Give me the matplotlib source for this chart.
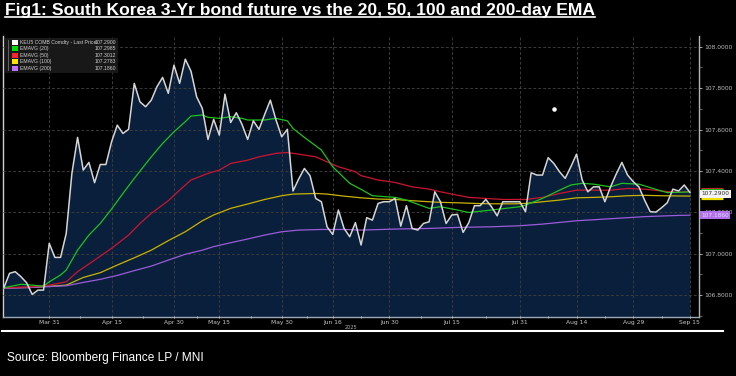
import matplotlib
matplotlib.use("Agg")
import matplotlib.pyplot as plt
from matplotlib.lines import Line2D
from matplotlib.patches import Rectangle
import matplotlib.transforms as mtrans
import numpy as np

# last price, one value per trading day (index 0 = start of window)
price = [106.835, 106.905, 106.913, 106.889, 106.860, 106.803, 106.824, 106.824, 107.050, 106.982,
         106.982, 107.098, 107.388, 107.562, 107.404, 107.441, 107.343, 107.431, 107.431, 107.541,
         107.621, 107.581, 107.601, 107.823, 107.734, 107.710, 107.742, 107.807, 107.852, 107.775,
         107.911, 107.823, 107.940, 107.882, 107.758, 107.702, 107.552, 107.649, 107.573, 107.771,
         107.634, 107.681, 107.625, 107.552, 107.642, 107.601, 107.673, 107.742, 107.646, 107.565,
         107.601, 107.303, 107.361, 107.412, 107.377, 107.267, 107.251, 107.130, 107.093, 107.211,
         107.122, 107.082, 107.150, 107.042, 107.174,
         107.162, 107.243, 107.251, 107.251, 107.267, 107.133, 107.232, 107.122, 107.114, 107.146,
         107.154, 107.299, 107.251, 107.146, 107.187, 107.190, 107.103, 107.150, 107.232, 107.232,
         107.262, 107.227, 107.183, 107.251, 107.251, 107.251, 107.251, 107.203, 107.391, 107.380,
         107.380, 107.464, 107.436, 107.396, 107.364, 107.420, 107.481, 107.356, 107.299, 107.323,
         107.323, 107.251, 107.323, 107.385, 107.441, 107.380, 107.348, 107.323, 107.259, 107.203,
         107.201, 107.222, 107.246, 107.312, 107.303, 107.332, 107.296]

ema20_idx = [0, 3, 5, 7, 8, 10, 11, 12, 13, 15, 17, 19, 21, 23, 26, 28, 30, 32, 33, 35, 36, 38, 40, 42,
             43, 46, 48, 50, 51, 53, 56, 58, 61, 63, 65, 69, 71, 75, 77, 80, 82, 86, 91, 92, 95, 98,
             100, 102, 104, 107, 109, 112, 115, 117, 121]
ema20_val = [106.835, 106.852, 106.848, 106.843, 106.864, 106.897, 106.921, 106.969, 107.017, 107.090,
             107.146, 107.216, 107.291, 107.364, 107.468, 107.533, 107.589, 107.638, 107.665, 107.670,
             107.659, 107.654, 107.662, 107.654, 107.646, 107.646, 107.654, 107.642, 107.605, 107.562,
             107.501, 107.420, 107.340, 107.311, 107.280, 107.272, 107.259, 107.219, 107.227, 107.211,
             107.199, 107.211, 107.227, 107.235, 107.267, 107.307, 107.332, 107.340, 107.336, 107.323,
             107.340, 107.336, 107.311, 107.295, 107.2985]

ema50_idx = [0, 5, 8, 11, 13, 16, 19, 22, 24, 26, 29, 31, 33, 36, 38, 40, 43, 45, 48, 50, 52, 55, 57,
             59, 62, 63, 66, 69, 72, 75, 77, 79, 82, 85, 88, 92, 95, 98, 101, 104, 107, 110, 113, 116,
             119, 121]
ema50_val = [106.835, 106.840, 106.848, 106.864, 106.913, 106.969, 107.026, 107.090, 107.146, 107.195,
             107.256, 107.307, 107.356, 107.388, 107.404, 107.436, 107.452, 107.468, 107.485, 107.489,
             107.481, 107.468, 107.444, 107.420, 107.396, 107.377, 107.356, 107.344, 107.323, 107.312,
             107.299, 107.288, 107.272, 107.267, 107.262, 107.262, 107.272, 107.291, 107.307, 107.307,
             107.307, 107.315, 107.312, 107.303, 107.296, 107.3012]

ema100_idx = [0, 5, 11, 14, 17, 20, 23, 26, 29, 32, 35, 37, 40, 43, 46, 49, 51, 55, 57, 60, 63, 66, 69,
              72, 75, 77, 80, 83, 86, 90, 92, 95, 98, 101, 104, 107, 110, 113, 116, 121]
ema100_val = [106.835, 106.837, 106.848, 106.885, 106.908, 106.945, 106.980, 107.017, 107.063, 107.106,
              107.159, 107.187, 107.219, 107.240, 107.262, 107.280, 107.288, 107.291, 107.288, 107.278,
              107.270, 107.264, 107.262, 107.256, 107.251, 107.248, 107.246, 107.243, 107.241, 107.241,
              107.243, 107.251, 107.259, 107.270, 107.272, 107.275, 107.280, 107.282, 107.280, 107.2783]

ema200_idx = [0, 5, 11, 14, 17, 20, 23, 26, 29, 32, 35, 37, 40, 43, 46, 49, 52, 56, 60, 63, 69, 75, 80,
              86, 91, 95, 101, 107, 113, 119, 121]
ema200_val = [106.832, 106.837, 106.845, 106.861, 106.876, 106.895, 106.918, 106.940, 106.969, 106.997,
              107.017, 107.034, 107.053, 107.071, 107.090, 107.106, 107.114, 107.117, 107.117, 107.114,
              107.119, 107.122, 107.127, 107.130, 107.135, 107.143, 107.159, 107.169, 107.179, 107.185,
              107.186]

tick_idx = [8, 19, 30, 38, 49, 58, 68, 79, 91, 101, 111, 121]
tick_labels = ['Mar 31', 'Apr 15', 'Apr 30', 'May 15', 'May 30', 'Jun 16', 'Jun 30', 'Jul 15',
               'Jul 31', 'Aug 14', 'Aug 29', 'Sep 15']
ytick_vals = [106.8, 107.0, 107.2, 107.4, 107.6, 107.8, 108.0]

legend_names = ['KEU5 COMB Comdty - Last Price', 'EMAVG (20)', 'EMAVG (50)', 'EMAVG (100)', 'EMAVG (200)']
legend_vals = [107.2900, 107.2985, 107.3012, 107.2783, 107.1860]

cursor_idx = [97]
cursor_val = [107.70]

title = "Fig1: South Korea 3-Yr bond future vs the 20, 50, 100 and 200-day EMA"
source = "Source: Bloomberg Finance LP / MNI"

line_cols = ['#d6d6d6', '#1ec21e', '#cc1530', '#c8b400', '#9a5cd8']
key_cols = ['#ffffff', '#00e000', '#ff2030', '#ffe400', '#c070ff']
tag_cols = ['#f2f2f2', '#10b010', '#d01830', '#ece000', '#b070ec']

W, H = 736, 376
fig = plt.figure(figsize=(W / 100, H / 100), dpi=100, facecolor='black')
ax = fig.add_axes([3.3 / W, (H - 317) / H, (699 - 3.3) / W, (317 - 36) / H])
ax.set_facecolor('black')

x = np.arange(len(price))
ymin, ymax = 106.694, 108.052
ax.fill_between(x, price, ymin, color='#0a1f3c', lw=0, zorder=1)
ax.plot(x, price, color=line_cols[0], lw=1.1, zorder=6)
ax.plot(ema20_idx, ema20_val, color=line_cols[1], lw=0.9, zorder=5)
ax.plot(ema50_idx, ema50_val, color=line_cols[2], lw=0.9, zorder=4)
ax.plot(ema100_idx, ema100_val, color=line_cols[3], lw=0.9, zorder=3)
ax.plot(ema200_idx, ema200_val, color=line_cols[4], lw=0.9, zorder=3)
ax.scatter(cursor_idx, cursor_val, s=5, color='white', zorder=7)

ax.set_xlim(-0.1, 122.6)
ax.set_ylim(ymin, ymax)

# axes styling, bloomberg-ish
ax.yaxis.tick_right()
ax.set_yticks(ytick_vals)
ax.set_yticklabels(['%.4f' % v for v in ytick_vals])
ax.set_yticks(np.arange(106.7, 108.05, 0.1), minor=True)
ax.set_xticks(tick_idx)
ax.set_xticklabels(tick_labels)
ax.set_xticks([(a + b) / 2 for a, b in zip(tick_idx[:-1], tick_idx[1:])], minor=True)
ax.tick_params(axis='y', which='major', labelsize=4.3, colors='#bdbdbd', length=2.5, width=0.6, pad=1)
ax.tick_params(axis='y', which='minor', colors='#8a8a8a', length=1.8, width=0.5)
ax.tick_params(axis='x', which='major', labelsize=4.3, colors='#c8c8c8', length=2, width=0.6,
               direction='inout', pad=1.5)
ax.tick_params(axis='x', which='minor', colors='#c8c8c8', length=1.5, width=0.6, direction='inout')
ax.grid(True, which='major', color='#3a3a3a', lw=0.7, ls=(0, (3, 2)), zorder=2)
ax.set_axisbelow(False)
for g in ax.get_xgridlines() + ax.get_ygridlines():
    g.set_zorder(2)
ax.spines['top'].set_visible(False)
ax.spines['left'].set_color('#d0d0d0')
ax.spines['left'].set_linewidth(1.0)
ax.spines['right'].set_color('#b5b5b5')
ax.spines['right'].set_linewidth(1.0)
ax.spines['bottom'].set_color('#9aa8b8')
ax.spines['bottom'].set_linewidth(1.0)
ax.text(0.5, -0.03, '2025', transform=ax.transAxes, fontsize=3.6, color='#b0b0b0',
        ha='center', va='top')

# value tags on right axis: EMA20/50/100 show only as coloured edges behind the price tag
tr = mtrans.blended_transform_factory(ax.transAxes, ax.transData)
for k in [2, 1, 3]:
    ax.plot([1.003, 1.035], [legend_vals[k], legend_vals[k]], transform=tr, color=tag_cols[k],
            lw=5.2, clip_on=False, solid_capstyle='butt', zorder=8)
for k in [0, 4]:
    txt_col = '#e8dcf8' if k == 4 else '#303030'
    ax.annotate('%.4f' % legend_vals[k], xy=(1, legend_vals[k]), xycoords=('axes fraction', 'data'),
                xytext=(1.5, 0), textcoords='offset points', va='center', ha='left',
                fontsize=4.2, color=txt_col, annotation_clip=False, zorder=9,
                bbox=dict(boxstyle='square,pad=0.25', fc=tag_cols[k], ec='none'))

# legend box top-left
fig.add_artist(Rectangle((5 / W, 1 - 73 / H), 113 / W, 35 / H, transform=fig.transFigure,
                         fc='#1b1b1b', ec='none', alpha=0.92, zorder=10))
fig.add_artist(Line2D([8 / W, 8 / W], [1 - 40 / H, 1 - 70 / H], color='#707070', lw=0.6, zorder=11))
for i in range(len(legend_names)):
    yy = 1 - (42.5 + 6.4 * i) / H
    fig.add_artist(Rectangle((12 / W, yy - 2.4 / H), 5.5 / W, 4.8 / H, transform=fig.transFigure,
                             fc=key_cols[i], ec='none', zorder=11))
    fig.text(19.5 / W, yy, legend_names[i], fontsize=3.7, color='#d0d0d0', va='center', zorder=12,
             family='Liberation Sans')
    fig.text(116.5 / W, yy, '%.4f' % legend_vals[i], fontsize=3.7, color='#d0d0d0', va='center',
             ha='right', zorder=12, family='Liberation Sans')

# title with underline
t = fig.text(5 / W, 1 - 10.5 / H, title, fontsize=12.6, fontweight='bold', color='white',
             family='Liberation Sans', va='center', ha='left')
fig.canvas.draw()
bb = t.get_window_extent()
fig.add_artist(Line2D([bb.x0 / W, bb.x1 / W], [1 - 17 / H, 1 - 17 / H], color='white', lw=1.2))

# divider and source
fig.add_artist(Line2D([2 / W, 723 / W], [1 - 331 / H, 1 - 331 / H], color='white', lw=1.5))
fig.text(7 / W, 1 - 358.5 / H, source, fontsize=8.6, color='white', family='Liberation Sans',
         va='center', ha='left')

fig.savefig('out.png', dpi=100, facecolor='black')
